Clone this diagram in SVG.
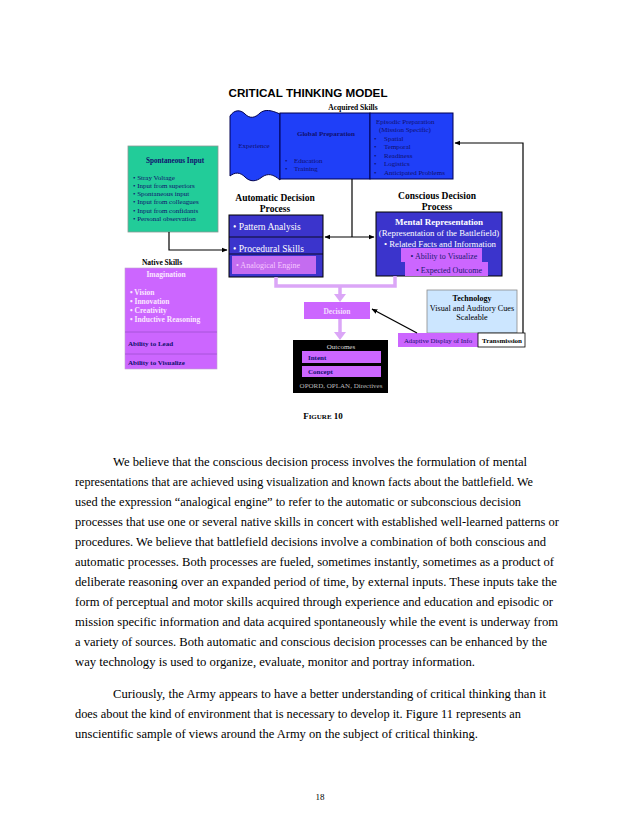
<svg xmlns="http://www.w3.org/2000/svg" width="638" height="826" viewBox="0 0 638 826">
<style>
text{font-family:"Liberation Serif","Times New Roman",serif;}
.t{font-family:"Liberation Sans",Arial,sans-serif;font-weight:bold;font-size:11.5px;fill:#000;}
.h{font-weight:bold;font-size:9.5px;fill:#000;text-anchor:middle;}
.s{font-size:7px;fill:#10106e;}
.sb{font-size:7px;fill:#10106e;font-weight:bold;}
.w{fill:#fff;}
.c{text-anchor:middle;}
.p{font-size:12.5px;fill:#000;}
.blue{fill:#1f3ff8;stroke:#000050;stroke-width:1;}
.dblue{fill:#3b34cc;stroke:#000;stroke-width:1;}
.lav{fill:#cc66ff;}
.conn{fill:none;stroke:#000;stroke-width:1.2;}
.lconn{fill:none;stroke:#dba6f7;stroke-width:3.5;}
</style>
<defs>
<marker id="ah" viewBox="0 0 10 10" refX="9" refY="5" markerWidth="6" markerHeight="6" orient="auto-start-reverse" markerUnits="userSpaceOnUse">
<path d="M0,1 L10,5 L0,9 Z" fill="#000"/>
</marker>
</defs>
<rect width="638" height="826" fill="#fff"/>
<text class="t c" x="308" y="97" textLength="159" lengthAdjust="spacingAndGlyphs">CRITICAL THINKING MODEL</text>
<text class="c" x="353" y="110" style="font-weight:bold;font-size:7.5px">Acquired Skills</text>

<g id="experience">
<path class="blue" d="M230,116 C234,110 240,109 245,114 C250,119 255,118 260,113 C265,109 271,110 280,114 L280,180 C273,174 268,173 262,177 C256,182 250,182 245,177 C240,172 235,172 230,176 Z"/>
<text class="s c" x="254" y="148">Experience</text>
</g>
<g id="global-preparation">
<rect class="blue" x="280" y="113" width="90" height="66"/>
<text class="sb c" x="326" y="136">Global Preparation</text>
<text class="s" x="285" y="163">•</text><text class="s" x="294" y="163">Education</text>
<text class="s" x="285" y="171">•</text><text class="s" x="294" y="171">Training</text>
</g>
<g id="episodic-preparation">
<rect class="blue" x="370" y="113" width="83" height="66"/>
<text class="s" x="376" y="124">Episodic Preparation</text>
<text class="s" x="379" y="132">(Mission Specific)</text>
<text class="s" x="374" y="141">•</text><text class="s" x="384" y="141">Spatial</text>
<text class="s" x="374" y="149">•</text><text class="s" x="384" y="149">Temporal</text>
<text class="s" x="374" y="158">•</text><text class="s" x="384" y="158">Readiness</text>
<text class="s" x="374" y="166">•</text><text class="s" x="384" y="166">Logistics</text>
<text class="s" x="374" y="175">•</text><text class="s" x="384" y="175">Anticipated Problems</text>
</g>

<g id="spontaneous-input">
<rect x="128" y="146" width="90" height="86" fill="#22cc99" stroke="#8a9a94" stroke-width="0.8"/>
<text class="sb c" x="175" y="163" style="font-size:7.2px">Spontaneous Input</text>
<text class="s" x="133" y="180">•  Stray Voltage</text>
<text class="s" x="133" y="188">• Input from superiors</text>
<text class="s" x="133" y="196">•  Spontaneous input</text>
<text class="s" x="133" y="204">•  Input from colleagues</text>
<text class="s" x="133" y="213">•  Input from confidants</text>
<text class="s" x="133" y="221">•  Personal observation</text>
</g>

<g id="automatic-decision">
<text class="h" x="275" y="201">Automatic Decision</text>
<text class="h" x="275" y="212">Process</text>
<rect class="dblue" x="229" y="215" width="94" height="62"/>
<line x1="229" y1="237" x2="323" y2="237" stroke="#000" stroke-width="0.8"/>
<line x1="229" y1="254" x2="323" y2="254" stroke="#000" stroke-width="0.8"/>
<text class="w" x="233" y="230" style="font-size:9.5px">•  Pattern Analysis</text>
<text class="w" x="233" y="252" style="font-size:9.5px">•  Procedural Skills</text>
<rect x="232" y="256" width="84" height="18" fill="#c46cf0"/>
<text x="236" y="268" style="font-size:8px;fill:#f5c8ff">•  Analogical Engine</text>
</g>

<g id="conscious-decision">
<text class="h" x="437" y="199">Conscious Decision</text>
<text class="h" x="437" y="210">Process</text>
<rect class="dblue" x="376" y="212" width="126" height="64"/>
<text class="w c" x="439" y="225" style="font-size:9px;font-weight:bold">Mental Representation</text>
<text class="w c" x="439" y="236" style="font-size:8.8px">(Representation of the Battlefield)</text>
<text class="w c" x="440" y="247" style="font-size:8.8px">•  Related Facts and Information</text>
<rect class="lav" x="401" y="248" width="81" height="14"/>
<text class="c" x="444" y="258.5" style="font-size:8px;fill:#1a1a70">• Ability to Visualize</text>
<rect class="lav" x="405" y="262" width="83" height="14"/>
<text class="c" x="449" y="272.5" style="font-size:8px;fill:#1a1a70">• Expected Outcome</text>
</g>

<g id="native-skills">
<text class="c" x="162" y="265" style="font-weight:bold;font-size:7.5px">Native Skills</text>
<rect class="lav" x="125" y="268" width="92" height="101" stroke="#c0a0d0" stroke-width="0.6"/>
<line x1="125" y1="332" x2="217" y2="332" stroke="#a050d0" stroke-width="0.8"/>
<line x1="125" y1="354" x2="217" y2="354" stroke="#a050d0" stroke-width="0.8"/>
<text class="c" x="166" y="277" style="font-weight:bold;font-size:7.5px;fill:#fbe6ff">Imagination</text>
<text x="130" y="295" style="font-weight:bold;font-size:7.5px;fill:#fbe6ff">•  Vision</text>
<text x="130" y="304" style="font-weight:bold;font-size:7.5px;fill:#fbe6ff">•  Innovation</text>
<text x="130" y="313" style="font-weight:bold;font-size:7.5px;fill:#fbe6ff">•  Creativity</text>
<text x="130" y="322" style="font-weight:bold;font-size:7.5px;fill:#fbe6ff">•  Inductive Reasoning</text>
<text class="sb" x="128" y="346">Ability to Lead</text>
<text class="sb" x="128" y="365">Ability to Visualize</text>
</g>

<g id="decision">
<rect class="lav" x="304" y="302" width="66" height="17"/>
<text class="c" x="337" y="314" style="font-weight:bold;font-size:7.5px;fill:#f3ddff">Decision</text>
</g>

<g id="outcomes">
<rect x="293" y="340" width="95" height="53" fill="#000"/>
<text class="c" x="341" y="349" style="font-size:7px;fill:#ddd">Outcomes</text>
<rect class="lav" x="302" y="351" width="79" height="12"/>
<text class="sb" x="308" y="359.5">Intent</text>
<rect class="lav" x="302" y="366" width="79" height="11"/>
<text class="sb" x="308" y="374">Concept</text>
<text class="c" x="341" y="388" style="font-size:7px;fill:#bbb">OPORD, OPLAN,  Directives</text>
</g>

<g id="technology">
<rect x="427" y="290" width="90" height="43" fill="#cce6ff" stroke="#8a8a8a" stroke-width="0.8"/>
<text class="c" x="472" y="301" style="font-weight:bold;font-size:8px">Technology</text>
<text class="c" x="472" y="311" style="font-size:8.2px">Visual and Auditory Cues</text>
<text class="c" x="472" y="320" style="font-size:8.2px">Scaleable</text>
</g>
<g id="adaptive-display">
<rect class="lav" x="398" y="333" width="80" height="14"/>
<text class="s c" x="438" y="343" style="font-size:6.8px">Adaptive Display of Info</text>
</g>
<g id="transmission">
<rect x="478" y="333" width="47" height="14" fill="#fff" stroke="#000" stroke-width="0.8"/>
<text class="c" x="502" y="343" style="font-size:7px;font-weight:bold">Transmission</text>
</g>

<g id="connectors">
<path class="conn" d="M169,232 V250 H227" marker-end="url(#ah)"/>
<path class="conn" d="M352,179 V237"/>
<path class="conn" d="M325,237 H374" marker-start="url(#ah)" marker-end="url(#ah)"/>
<path class="conn" d="M417,333 L372,309" marker-end="url(#ah)"/>
<path class="conn" d="M523,333 V143 H455" marker-end="url(#ah)"/>
<path class="lconn" d="M276,277 V286 H395 V276"/>
<path class="lconn" d="M340,286 V295"/>
<path d="M334,294 L346,294 L340,302 Z" fill="#dba6f7"/>
<path class="lconn" d="M340,319 V333"/>
<path d="M334,332 L346,332 L340,340 Z" fill="#dba6f7"/>
</g>

<text class="c" x="323" y="419" style="font-weight:bold;font-size:9px">F<tspan style="font-size:7px">IGURE</tspan> 10</text>

<g id="body-text">
<text class="p" x="113" y="466" textLength="414" lengthAdjust="spacingAndGlyphs">We believe that the conscious decision process involves the formulation of mental</text>
<text class="p" x="75" y="486" textLength="458" lengthAdjust="spacingAndGlyphs">representations that are achieved using visualization and known facts about the battlefield. We</text>
<text class="p" x="75" y="506" textLength="446" lengthAdjust="spacingAndGlyphs">used the expression “analogical engine” to refer to the automatic or subconscious decision</text>
<text class="p" x="75" y="526" textLength="484" lengthAdjust="spacingAndGlyphs">processes that use one or several native skills in concert with established well-learned patterns or</text>
<text class="p" x="75" y="546" textLength="471" lengthAdjust="spacingAndGlyphs">procedures. We believe that battlefield decisions involve a combination of both conscious and</text>
<text class="p" x="75" y="566" textLength="479" lengthAdjust="spacingAndGlyphs">automatic processes. Both processes are fueled, sometimes instantly, sometimes as a product of</text>
<text class="p" x="75" y="586" textLength="482" lengthAdjust="spacingAndGlyphs">deliberate reasoning over an expanded period of time, by external inputs. These inputs take the</text>
<text class="p" x="75" y="606" textLength="478" lengthAdjust="spacingAndGlyphs">form of perceptual and motor skills acquired through experience and education and episodic or</text>
<text class="p" x="75" y="626" textLength="483" lengthAdjust="spacingAndGlyphs">mission specific information and data acquired spontaneously while the event is underway from</text>
<text class="p" x="75" y="646" textLength="472" lengthAdjust="spacingAndGlyphs">a variety of sources. Both automatic and conscious decision processes can be enhanced by the</text>
<text class="p" x="75" y="666" textLength="400" lengthAdjust="spacingAndGlyphs">way technology is used to organize, evaluate, monitor and portray information.</text>
<text class="p" x="113" y="698" textLength="433" lengthAdjust="spacingAndGlyphs">Curiously, the Army appears to have a better understanding of critical thinking than it</text>
<text class="p" x="75" y="718" textLength="446" lengthAdjust="spacingAndGlyphs">does about the kind of environment that is necessary to develop it. Figure 11 represents an</text>
<text class="p" x="75" y="738" textLength="403" lengthAdjust="spacingAndGlyphs">unscientific sample of views around the Army on the subject of critical thinking.</text>
</g>
<text class="c" x="320" y="800" style="font-size:9px">18</text>
</svg>
